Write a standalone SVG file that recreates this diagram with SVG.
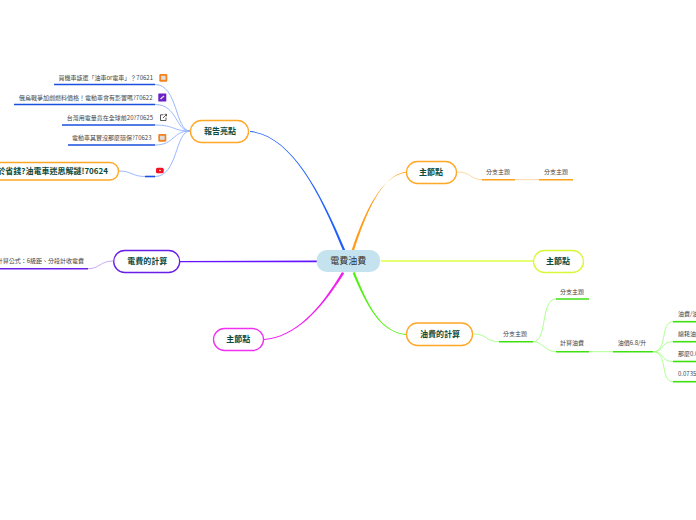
<svg xmlns="http://www.w3.org/2000/svg" width="696" height="520" viewBox="0 0 696 520">
<style>
text{font-family:"Noto Sans CJK TC","Noto Sans",sans-serif;text-anchor:middle;dominant-baseline:central;transform:translateY(-.6px)}
.m{font-size:8px;font-weight:700;fill:#0c4a3c}
.s{font-size:6px;fill:#444}
.c{font-size:9px;fill:#333}
.e{text-anchor:end}
.b{text-anchor:start}
.n{fill:#fff;stroke-width:1.3}
.u{fill:none;stroke-width:1.6}
</style>
<rect width="696" height="520" fill="#fff"/>
<g id="connectors" fill="none">
<path d="M250 131.100C290 134.600 320 189.700 345.200 250L343 250.800C319 190.300 290 135.400 250 131.900Z" fill="#2060ff"/>
<path d="M406.500 171.500C380 175.500 366 215 354 250.500L351.700 250C364 214.500 380 175.700 406.500 172.500Z" fill="#ff9d1a"/>
<path d="M381 260.800H533V261.200H381Z" fill="#d6ff20" stroke="#d6ff20" stroke-width="0.6"/>
<path d="M354.600 272C368 305 380 331.900 406.500 334.100V334.900C379.500 332.700 366.500 305 352.600 273Z" fill="#50f010"/>
<path d="M264 339.100C295 336.500 319.500 310 342 272L344.200 273.200C320.500 311 295 337.500 264 339.900Z" fill="#f020f0"/>
<path d="M317 260.500V262.300H180V261Z" fill="#6414ff"/>
<g stroke="#8fb0ff" stroke-width="0.9">
<path d="M190 131C175 131 178 84.500 155 84.500"/>
<path d="M190 131C175 131 178 104.500 155 104.500"/>
<path d="M190 131C172 131 175 125 155 125"/>
<path d="M190 131C172 131 175 145 155 145"/>
<path d="M190 131C175 131 178 176.500 155 176.500"/>
<path d="M145 176.500C132 176.500 132 171 119 171"/>
</g>
<path d="M113 261C100 261 100 268.700 88 268.700" stroke="#c49cff" stroke-width="0.9"/>
<g stroke="#ffd39b" stroke-width="0.9">
<path d="M457 172C472 172 470 179.700 482 179.700"/>
<path d="M515 179.700H539"/>
</g>
<g stroke="#a4ff85" stroke-width="0.9">
<path d="M473 334C488 334 485 341.700 499 341.700"/>
<path d="M533 341.700C548 341.700 540 299 556 299"/>
<path d="M533 341.700C543 341.700 545 351.700 556 351.700"/>
<path d="M589 351.700H613"/>
<path d="M653 351.700C668 351.700 660 321.700 673 321.700"/>
<path d="M653 351.700C665 351.700 660 341.700 673 341.700"/>
<path d="M653 351.700C665 351.700 660 361.500 673 361.500"/>
<path d="M653 351.700C668 351.700 660 381.700 673 381.700"/>
</g>
</g>
<g id="root"><rect x="316.700" y="250" width="63.300" height="22" rx="10" fill="#c5e3ef"/><text class="c" x="348.300" y="261">電費油費</text></g>
<g id="n1"><rect class="n" x="190.500" y="120.500" width="58" height="22" rx="11" stroke="#ffa726"/><text class="m" x="220" y="131">報告亮點</text></g>
<g id="n2"><rect class="n" x="-30" y="162.500" width="148.500" height="17.500" rx="8.700" stroke="#ffa726"/><text class="m e" x="108" y="171">於省錢?油電車迷思解謎!70624</text></g>
<g id="n3"><rect class="n" x="113.700" y="250.500" width="66" height="22" rx="11" stroke="#6a1fe8"/><text class="m" x="147.300" y="261">電費的計算</text></g>
<g id="n4"><rect class="n" x="213.500" y="328.500" width="50" height="22" rx="11" stroke="#f032f0"/><text class="m" x="238.300" y="339.300">主節點</text></g>
<g id="n5"><rect class="n" x="406.500" y="161.500" width="50" height="22" rx="11" stroke="#ffa726"/><text class="m" x="431" y="172">主節點</text></g>
<g id="n6"><rect class="n" x="533.500" y="250.500" width="50" height="22" rx="11" stroke="#d8f838"/><text class="m" x="558" y="261">主節點</text></g>
<g id="n7"><rect class="n" x="406.500" y="323" width="66" height="22.500" rx="11" stroke="#ffa726"/><text class="m" x="440" y="334">油費的計算</text></g>
<g id="t1"><text class="s e" x="153" y="77.700">買機車該選「油車or電車」？70621</text><path class="u" d="M54 84.500H155" stroke="#1a4fe0"/><rect x="159.300" y="74" width="8" height="7.700" rx="1" fill="#f58220"/><rect x="161" y="75.800" width="4.600" height="4" fill="#ddd"/></g>
<g id="t2"><text class="s e" x="152.500" y="97.700">俄烏戰爭加劇燃料價格！電動車會有影響嗎?70622</text><path class="u" d="M14 104.500H155" stroke="#1a4fe0"/><rect x="158.300" y="93.500" width="8" height="8" rx="0.500" fill="#6a1fc8"/><path d="M160.500 99L164 96" stroke="#ddd" stroke-width="1.500"/></g>
<g id="t3"><text class="s e" x="153" y="117.700">台灣用電量竟在全球前20?70625</text><path class="u" d="M62 125H155" stroke="#1a4fe0"/><path d="M163.500 114.800H160.500V120.500H166V117.500M163 118L166.500 114.500M164.500 114.300H166.500V116.300" fill="none" stroke="#333" stroke-width="0.800"/></g>
<g id="t4"><text class="s e" x="151.500" y="137.700">電動車其實沒那麼環保?70623</text><path class="u" d="M68 145H155" stroke="#1a4fe0"/><rect x="158.300" y="134" width="8" height="7.700" rx="1" fill="#f58220"/><rect x="160" y="135.800" width="4.600" height="4" fill="#ddd"/></g>
<g id="t5"><path class="u" d="M145 176.500H155" stroke="#1a4fe0"/><rect x="156" y="167.700" width="7.700" height="5.600" rx="1.500" fill="#f01020"/><circle cx="160" cy="170.500" r="0.800" fill="#fff"/></g>
<g id="t6"><text class="s e" x="84" y="260.700">計算公式：6級距、分段計收電費</text><path class="u" d="M0 268.700H88" stroke="#6a1fe8"/></g>
<g id="b1"><text class="s" x="498" y="171.700">分支主題</text><path class="u" d="M482 179.700H515" stroke="#ff9f1c"/></g>
<g id="b2"><text class="s" x="556" y="171.700">分支主題</text><path class="u" d="M539 179.700H573" stroke="#ff9f1c"/></g>
<g id="b3"><text class="s" x="515" y="334">分支主題</text><path class="u" d="M499 341.700H533" stroke="#3fe010"/></g>
<g id="b4"><text class="s" x="572" y="292">分支主題</text><path class="u" d="M556 299H589" stroke="#3fe010"/></g>
<g id="b5"><text class="s" x="572" y="343.500">計算油費</text><path class="u" d="M556 351.700H589" stroke="#3fe010"/></g>
<g id="b6"><text class="s" x="632" y="343.500">油價6.8/升</text><path class="u" d="M613 351.700H653" stroke="#3fe010"/></g>
<g id="b7"><text class="s b" x="678" y="314">油費/油</text><path class="u" d="M673 321.700H696" stroke="#3fe010"/></g>
<g id="b8"><text class="s b" x="678" y="334">總耗油</text><path class="u" d="M673 341.700H696" stroke="#3fe010"/></g>
<g id="b9"><text class="s b" x="678" y="354">那麼0.0</text><path class="u" d="M673 361.500H696" stroke="#3fe010"/></g>
<g id="b10"><text class="s b" x="678" y="374">0.0735</text><path class="u" d="M673 381.700H696" stroke="#3fe010"/></g>
</svg>
